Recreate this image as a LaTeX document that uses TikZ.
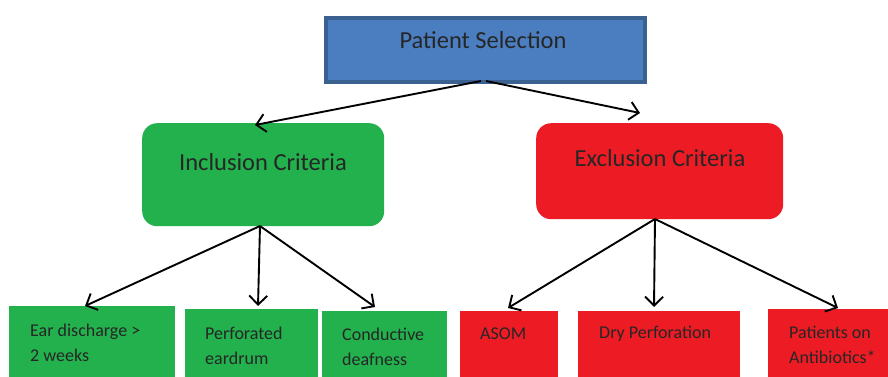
\documentclass[tikz,border=0pt]{standalone}
\usepackage{fontspec}
\setmainfont{Carlito}
\usetikzlibrary{arrows.meta,calc}
\definecolor{topfill}{HTML}{4A7EC0}
\definecolor{topdraw}{HTML}{3B6191}
\definecolor{grn}{HTML}{22B14C}
\definecolor{rd}{HTML}{ED1C24}
\definecolor{txt}{HTML}{262626}
\tikzset{
  box/.style={draw=none,inner sep=0pt,anchor=north west},
  crit/.style={box,rounded corners=15pt},
  lab/.style={text=txt,anchor=west,inner sep=0pt,align=left,font=\fontsize{18}{24.5}\selectfont},
  big/.style={text=txt,inner sep=0pt,font=\fontsize{24.5}{28}\selectfont},
  arr/.style={-{Straight Barb[length=9pt,width=18pt]},line width=1.9pt,black}
}
\begin{document}
\begin{tikzpicture}[x=1pt,y=-1pt]
\useasboundingbox (0,0) rectangle (888,376);
% top
\node[box,fill=topfill,draw=topdraw,line width=4pt,minimum width=319pt,minimum height=64pt] (top) at (324,16) {};
\node[big] (toptxt) at (483,40) {Patient Selection};
% criteria
\node[crit,fill=grn,minimum width=242pt,minimum height=103pt] (inc) at (142,123) {};
\node[big] (inctxt) at (263,162) {Inclusion Criteria};
\node[crit,fill=rd,minimum width=247pt,minimum height=96pt] (exc) at (536,123) {};
\node[big] (exctxt) at (660,158) {Exclusion Criteria};
% bottom boxes
\node[box,fill=grn,minimum width=166pt,minimum height=75pt] (b1) at (9,306) {};
\node[box,fill=grn,minimum width=133pt,minimum height=70pt] (b2) at (185,309) {};
\node[box,fill=grn,minimum width=125pt,minimum height=70pt] (b3) at (322,311) {};
\node[box,fill=rd,minimum width=98pt,minimum height=70pt] (b4) at (460,311) {};
\node[box,fill=rd,minimum width=162pt,minimum height=70pt] (b5) at (578,311) {};
\node[box,fill=rd,minimum width=125pt,minimum height=70pt] (b6) at (768,309) {};
\node[lab] (t1) at (30,343) {Ear discharge >\\2 weeks};
\node[lab] (t2) at (205,346) {Perforated\\eardrum};
\node[lab] (t3) at (342,347) {Conductive\\deafness};
\node[lab] (t4) at (480,334) {ASOM};
\node[lab] (t5) at (599,334) {Dry Perforation};
\node[lab] (t6) at (789,345) {Patients on\\Antibiotics*};
% connector points
\coordinate (s0a) at (481,81);
\coordinate (s0b) at (486,81);
\coordinate (eInc) at (255,125);
\coordinate (eExc) at (640,113);
\coordinate (s1) at (260,226);
\coordinate (s2) at (655,219);
\coordinate (e1) at (85,306);
\coordinate (e2) at (258,306);
\coordinate (e3) at (375,307);
\coordinate (e4) at (508,308);
\coordinate (e5) at (654,307);
\coordinate (e6) at (838,308);
\draw[arr] (s0a) -- (eInc);
\draw[arr] (s0b) -- (eExc);
\draw[arr] (s1) -- (e1);
\draw[arr] (s1) -- (e2);
\draw[arr] (s1) -- (e3);
\draw[arr] (s2) -- (e4);
\draw[arr] (s2) -- (e5);
\draw[arr] (s2) -- (e6);
\end{tikzpicture}
\end{document}
